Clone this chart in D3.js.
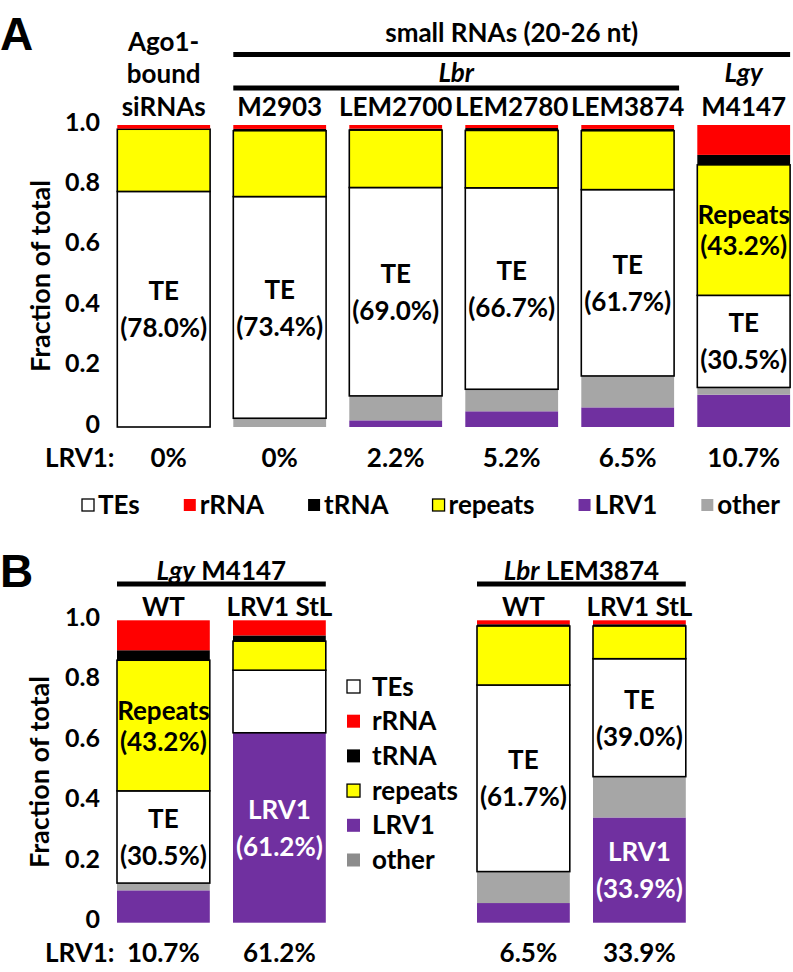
<!DOCTYPE html>
<html><head><meta charset="utf-8">
<script src="https://cdn.jsdelivr.net/npm/d3@7"></script>
<style>
body{margin:0;background:#fff;}
svg text{font-family:Lato,'Open Sans',sans-serif;font-weight:700;fill:#000;}
</style></head>
<body><svg id="c" width="793" height="972"></svg>
<script>
// ---------- data ----------
const seriesKeys = ["LRV1","other","TE","repeats","tRNA","rRNA"];
const legendKeys = ["TE","rRNA","tRNA","repeats","LRV1","other"];
const legendLabels = ["TEs","rRNA","tRNA","repeats","LRV1","other"];

// Panel A
const categoriesA = ["Ago1","M2903","LEM2700","LEM2780","LEM3874","M4147"];
const lrv1A    = [0.000, 0.000, 0.022, 0.052, 0.065, 0.107];
const otherA   = [0.000, 0.029, 0.081, 0.073, 0.104, 0.024];
const teA      = [0.780, 0.734, 0.690, 0.667, 0.617, 0.305];
const repeatsA = [0.206, 0.218, 0.190, 0.190, 0.195, 0.432];
const trnaA    = [0.002, 0.006, 0.005, 0.008, 0.006, 0.033];
const rrnaA    = [0.012, 0.013, 0.012, 0.010, 0.013, 0.099];
const teTextA      = ["(78.0%)","(73.4%)","(69.0%)","(66.7%)","(61.7%)","(30.5%)"];
const repeatsTextA = [null,null,null,null,null,"(43.2%)"];
const lrvRowA      = ["0%","0%","2.2%","5.2%","6.5%","10.7%"];
const sampleNamesA = ["M2903","LEM2700","LEM2780","LEM3874","M4147"];

// Panel B
const groupsB = ["Lgy","Lbr"];
const strainsB = ["M4147","LEM3874"];
const conditionsB = ["WT","LRV1 StL"];
const lrv1B    = [0.107, 0.628, 0.065, 0.348];
const otherB   = [0.024, 0.000, 0.104, 0.135];
const teB      = [0.305, 0.207, 0.617, 0.390];
const repeatsB = [0.432, 0.096, 0.195, 0.108];
const trnaB    = [0.033, 0.019, 0.006, 0.006];
const rrnaB    = [0.099, 0.050, 0.013, 0.013];
const teTextB      = ["(30.5%)", null, "(61.7%)", "(39.0%)"];
const repeatsTextB = ["(43.2%)", null, null, null];
const lrvInTextB   = [null, "(61.2%)", null, "(33.9%)"];
const lrvRowB      = ["10.7%","61.2%","6.5%","33.9%"];

const yTicks = [0,0.2,0.4,0.6,0.8,1.0];
const yTickLabels = ["0","0.2","0.4","0.6","0.8","1.0"];

const colors = {LRV1:"#7030A0", other:"#A6A6A6", TE:"#FFFFFF", repeats:"#FFFF00", tRNA:"#000000", rRNA:"#FF0000"};
const legendBColors = Object.assign({}, colors, {other:"#8C8C8C"});
const outlined = new Set(["TE","repeats"]);

// ---------- helpers ----------
const svg = d3.select("#c");
const FS = 26;

function rows(arrs){
  return arrs[0].map((_,i)=>({LRV1:arrs[0][i],other:arrs[1][i],TE:arrs[2][i],repeats:arrs[3][i],tRNA:arrs[4][i],rRNA:arrs[5][i], idx:i}));
}
function txt(g, x, y, s, opts={}){
  const t = g.append("text").attr("x",x).attr("y",y).attr("dy","0.35em")
    .attr("text-anchor", opts.anchor||"middle").style("font-size",(opts.size||FS)+"px").text(s);
  if(opts.fill) t.style("fill",opts.fill);
  if(opts.italic) t.style("font-style","italic");
  return t;
}
function drawBars(g, data, xPos, bw, y){
  const stacked = d3.stack().keys(seriesKeys)(data);
  stacked.forEach(layer=>{
    const key = layer.key;
    g.selectAll(null).data(layer.filter(d=>d[1]-d[0]>0)).enter().append("rect")
      .attr("x", d=>xPos(d.data.idx)).attr("width", bw)
      .attr("y", d=>y(d[1])).attr("height", d=>y(d[0])-y(d[1]))
      .attr("fill", colors[key])
      .attr("stroke", outlined.has(key)?"#000":"none")
      .attr("stroke-width", outlined.has(key)?1.6:0);
  });
  return stacked;
}
function drawYAxis(g, y, x){
  const ax = d3.axisLeft(y).tickValues(yTicks).tickSize(0).tickPadding(4)
    .tickFormat((d,i)=>yTickLabels[i]);
  const a = g.append("g").attr("transform",`translate(${x},0)`).call(ax);
  a.select(".domain").remove();
  a.selectAll("text").attr("dy","0.32em").attr("y",-3)
    .style("font-size","25px").style("font-family","Lato,'Open Sans',sans-serif").style("font-weight","700");
}
function segLabel(g, stacked, key, i, cx, y, l1, l2, fill, gap){
  const layer = stacked.find(s=>s.key===key);
  const d = layer[i];
  const mid = y((d[0]+d[1])/2);
  txt(g, cx, mid - gap, l1, {fill});
  txt(g, cx, mid + gap + 1, l2, {fill});
}

// ---------- Panel A ----------
const gA = svg.append("g");
const yA = d3.scaleLinear([0,1],[427,125]);
const xA = d3.scaleBand(d3.range(categoriesA.length), [105.7,801.7]).paddingInner(0.2).paddingOuter(0.1);
const cA = i => xA(i) + xA.bandwidth()/2;
const stA = drawBars(gA, rows([lrv1A,otherA,teA,repeatsA,trnaA,rrnaA]), i=>xA(i), xA.bandwidth(), yA);
drawYAxis(gA, yA, 104);
txt(gA, 0, 0, "Fraction of total", {size:27}).attr("transform","translate(41,276) rotate(-90)");

teTextA.forEach((t,i)=>{ if(t) segLabel(gA, stA, "TE", i, cA(i), yA, "TE", t, "#000", 18); });
repeatsTextA.forEach((t,i)=>{ if(t) segLabel(gA, stA, "repeats", i, cA(i), yA, "Repeats", t, "#000", 15); });

// headers A
svg.append("text").attr("x",0).attr("y",50).style("font-family","'Liberation Sans',Arial,sans-serif")
  .style("font-weight","700").style("font-size","46px").text("A");
["Ago1-","bound","siRNAs"].forEach((s,k)=>txt(gA, cA(0), [41.5,74,107][k], s));
sampleNamesA.forEach((s,k)=>txt(gA, cA(k+1), 107, s));
gA.append("line").attr("x1",xA(1)).attr("x2",xA(5)+xA.bandwidth()).attr("y1",54.5).attr("y2",54.5)
  .attr("stroke","#000").attr("stroke-width",5);
txt(gA, (xA(1)+xA(5)+xA.bandwidth())/2, 33, "small RNAs (20-26 nt)");
gA.append("line").attr("x1",xA(1)).attr("x2",xA(4)+xA.bandwidth()+5).attr("y1",88).attr("y2",88)
  .attr("stroke","#000").attr("stroke-width",5);
txt(gA, (xA(1)+xA(4)+xA.bandwidth()+5)/2, 73, "Lbr", {italic:true});
txt(gA, cA(5), 73, "Lgy", {italic:true});

// LRV1 row A
txt(gA, 45, 458, "LRV1:", {anchor:"start"});
lrvRowA.forEach((s,i)=>txt(gA, cA(i)+(i===0?5:0), 458, s));

// legend A (flow)
{
  let x = 82;
  legendKeys.forEach((k,i)=>{
    gA.append("rect").attr("x",x).attr("y",499).attr("width",12).attr("height",12)
      .attr("fill",colors[k]).attr("stroke",outlined.has(k)?"#000":"none").attr("stroke-width",1.3);
    const t = txt(gA, x+16, 505, legendLabels[i], {anchor:"start"});
    x = x + 16 + t.node().getComputedTextLength() + 44;
  });
}

// ---------- Panel B ----------
const gB = svg.append("g");
const yB = d3.scaleLinear([0,1],[922.7,620.3]);
const xB = [
  d3.scaleBand(d3.range(2), [105.4,337.4]).paddingInner(0.2).paddingOuter(0.1),
  d3.scaleBand(d3.range(2), [465.4,697.4]).paddingInner(0.2).paddingOuter(0.1)
];
const xPosB = i => xB[Math.floor(i/2)](i%2);
const bwB = xB[0].bandwidth();
const cB = i => xPosB(i) + bwB/2;
const stB = drawBars(gB, rows([lrv1B,otherB,teB,repeatsB,trnaB,rrnaB]), xPosB, bwB, yB);
drawYAxis(gB, yB, 104);
txt(gB, 0, 0, "Fraction of total", {size:27}).attr("transform","translate(40,772) rotate(-90)");

teTextB.forEach((t,i)=>{ if(t) segLabel(gB, stB, "TE", i, cB(i), yB, "TE", t, "#000", 18); });
repeatsTextB.forEach((t,i)=>{ if(t) segLabel(gB, stB, "repeats", i, cB(i), yB, "Repeats", t, "#000", 15); });
lrvInTextB.forEach((t,i)=>{ if(t) segLabel(gB, stB, "LRV1", i, cB(i), yB, "LRV1", t, "#FFFFFF", 18); });

svg.append("text").attr("x",0).attr("y",587).style("font-family","'Liberation Sans',Arial,sans-serif")
  .style("font-weight","700").style("font-size","46px").text("B");

groupsB.forEach((gname,gi)=>{
  const x0 = xPosB(gi*2), x1 = xPosB(gi*2+1)+bwB;
  gB.append("line").attr("x1",x0).attr("x2",x1).attr("y1",584).attr("y2",584).attr("stroke","#000").attr("stroke-width",5);
  const t = txt(gB, (x0+x1)/2, 571, "");
  t.append("tspan").style("font-style","italic").text(gname);
  t.append("tspan").text(" " + strainsB[gi]);
  conditionsB.forEach((c,ci)=>txt(gB, cB(gi*2+ci), 607, c));
});

txt(gB, 45, 953, "LRV1:", {anchor:"start"});
lrvRowB.forEach((s,i)=>txt(gB, cB(i)+(i===2?5:0), 953, s));

// legend B
legendKeys.forEach((k,i)=>{
  const yy = 686.5 + i*34.7;
  gB.append("rect").attr("x",347).attr("y",yy-6.5).attr("width",13).attr("height",13)
    .attr("fill",legendBColors[k]).attr("stroke",outlined.has(k)?"#000":"none").attr("stroke-width",1.3);
  txt(gB, 372, yy, legendLabels[i], {anchor:"start"});
});
</script></body></html>
